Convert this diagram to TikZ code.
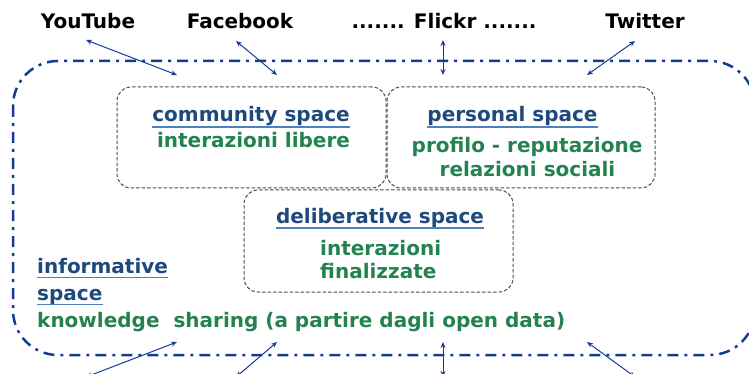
\documentclass[tikz,border=0pt]{standalone}
\usepackage{fontspec}
\setmainfont{DejaVu Sans}
\usetikzlibrary{calc,arrows.meta}
\definecolor{frameblue}{RGB}{20,60,150}
\definecolor{titleblue}{RGB}{31,73,125}
\definecolor{ulblue}{RGB}{79,129,189}
\definecolor{txtgreen}{RGB}{35,130,80}
\begin{document}
\begin{tikzpicture}[x=1pt,y=-1pt,
  lbl/.style={font=\bfseries\fontsize{20}{24}\selectfont, inner sep=0pt, anchor=base},
  site/.style={lbl, text=black},
  title/.style={lbl, text=titleblue},
  body/.style={lbl, text=txtgreen},
  spacebox/.style={draw=black!70, dash pattern=on 3.5pt off 2pt, rounded corners=14pt, line width=1pt},
  frame/.style={draw=frameblue, line width=2.5pt, dash pattern=on 11pt off 6pt on 3pt off 6pt, rounded corners=45pt},
  link/.style={draw=frameblue, line width=1pt, {Stealth[length=6pt,width=5pt]}-{Stealth[length=6pt,width=5pt]}},
  ul/.style={draw=ulblue, line width=1.5pt}]
\useasboundingbox (0,0) rectangle (749,374);
% frame
\draw[frame] (13,61) rectangle (755,355);
% boxes
\node[spacebox, minimum width=269pt, minimum height=101pt] (cbox) at (251.5,137.5) {};
\node[spacebox, minimum width=268pt, minimum height=101pt] (pbox) at (521,137.5) {};
\node[spacebox, minimum width=269pt, minimum height=102pt] (dbox) at (378.5,241) {};
% site labels
\node[site] (yt) at (88,29) {YouTube};
\node[site] (fb) at (240,29) {Facebook};
\node[site] (fl) at (444,29) {....... Flickr .......};
\node[site] (tw) at (645,29) {Twitter};
% community
\node[title] (ct) at (251,122) {community space};
\draw[ul] ($(ct.base west)+(0,5)$) -- ($(ct.base east)+(0,5)$);
\node[body] (cb) at (253.5,148) {interazioni libere};
% personal
\node[title] (pt) at (512.5,122) {personal space};
\draw[ul] ($(pt.base west)+(0,5)$) -- ($(pt.base east)+(0,5)$);
\node[body] (pb1) at (527,153) {profilo - reputazione};
\node[body] (pb2) at (527.5,177) {relazioni sociali};
% deliberative
\node[title] (dt) at (380,223) {deliberative space};
\draw[ul] ($(dt.base west)+(0,5)$) -- ($(dt.base east)+(0,5)$);
\node[body, anchor=base west] (db1) at (320,255) {interazioni};
\node[body, anchor=base west] (db2) at (320,278) {finalizzate};
% informative
\node[title, anchor=base west] (it1) at (37,273) {informative};
\draw[ul] ($(it1.base west)+(0,4.5)$) -- ($(it1.base east)+(0,4.5)$);
\node[title, anchor=base west] (it2) at (37,300) {space};
\draw[ul] ($(it2.base west)+(0,4.5)$) -- ($(it2.base east)+(0,4.5)$);
\node[body, anchor=base west] (ib) at (37,327) {knowledge\ \ sharing (a partire dagli open data)};
% arrow ends
\coordinate (t1a) at (86,40);  \coordinate (t1b) at (177,75);
\coordinate (t2a) at (236,41); \coordinate (t2b) at (277,75);
\coordinate (t3a) at (443,40); \coordinate (t3b) at (443,75);
\coordinate (t4a) at (635,41); \coordinate (t4b) at (587,75);
\coordinate (b1a) at (86,377);  \coordinate (b1b) at (177,342);
\coordinate (b2a) at (236,377); \coordinate (b2b) at (277,342);
\coordinate (b3a) at (443,377); \coordinate (b3b) at (443,342);
\coordinate (b4a) at (635,377); \coordinate (b4b) at (587,342);
\draw[link] (t1a) -- (t1b);
\draw[link] (t2a) -- (t2b);
\draw[link] (t3a) -- (t3b);
\draw[link] (t4a) -- (t4b);
\draw[link] (b1a) -- (b1b);
\draw[link] (b2a) -- (b2b);
\draw[link] (b3a) -- (b3b);
\draw[link] (b4a) -- (b4b);
\end{tikzpicture}
\end{document}
